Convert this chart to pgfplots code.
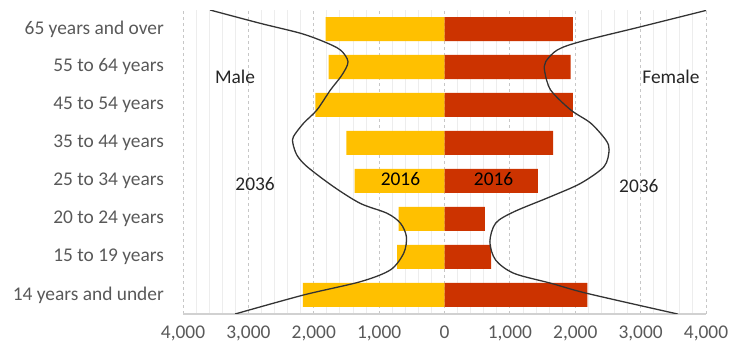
\documentclass[border=0pt]{standalone}
\usepackage{fontspec}
\setmainfont{Carlito}
\usepackage{pgfplots}
\pgfplotsset{compat=1.18}
\definecolor{male}{HTML}{FFC000}
\definecolor{female}{HTML}{CC3300}
\definecolor{lab}{HTML}{595959}
\definecolor{txt}{HTML}{262626}
\begin{document}
\fontsize{19.4}{23}\selectfont
\begin{tikzpicture}[x=1pt,y=1pt]
\useasboundingbox (0,0) rectangle (743,347);
\begin{axis}[
 at={(183pt,33pt)}, anchor=south west,
 scale only axis, width=523pt, height=304pt,
 xmin=-4000, xmax=4000, ymin=0, ymax=8,
 xtick={-4000,-3000,-2000,-1000,0,1000,2000,3000,4000},
 xticklabels={{4,000},{3,000},{2,000},{1,000},0,{1,000},{2,000},{3,000},{4,000}},
 minor x tick num=4,
 ytick={0.5,1.5,2.5,3.5,4.5,5.5,6.5,7.5},
 yticklabels={14 years and under,15 to 19 years,20 to 24 years,25 to 34 years,35 to 44 years,45 to 54 years,55 to 64 years,65 years and over},
 xmajorgrids, xminorgrids,
 major grid style={dashed, color=black!22, line width=0.9pt},
 minor grid style={color=black!7, line width=0.9pt},
 axis x line*=bottom, axis y line*=left,
 x axis line style={draw=black!18, line width=1.2pt, -},
 y axis line style={draw=none},
 major tick length=0pt, minor tick length=0pt,
 ticklabel style={font=\fontsize{19.4}{23}\selectfont, text=lab},
 xticklabel style={yshift=-5pt},
 yticklabel style={xshift=-12.5pt},
]
\addplot[xbar, bar width=24pt, bar shift=0pt, fill=male, draw=none]
 coordinates {(-2166,0.5) (-725,1.5) (-700,2.5) (-1374,3.5) (-1502,4.5) (-1977,5.5) (-1773,6.5) (-1820,7.5)};
\addplot[xbar, bar width=24pt, bar shift=0pt, fill=female, draw=none]
 coordinates {(2187,0.5) (715,1.5) (618,2.5) (1430,3.5) (1660,4.5) (1962,5.5) (1931,6.5) (1962,7.5)};
\addplot[smooth, tension=0.5, color=black!80, line width=1.3pt] coordinates {
 (-3586,8.0) (-2820,7.65) (-2207,7.39) (-1850,7.17) (-1594,6.95) (-1476,6.64) (-1568,6.29)
 (-1747,5.89) (-1951,5.37) (-2156,5.02) (-2310,4.67) (-2319,4.49) (-2257,4.18) (-2104,3.88)
 (-1697,3.35) (-1287,2.91) (-878,2.65) (-674,2.39) (-582,2.03) (-624,1.60) (-828,1.16)
 (-1287,0.85) (-2156,0.50) (-3203,0.0)};
\addplot[smooth, tension=0.5, color=black!80, line width=1.3pt] coordinates {
 (4026,8.0) (3004,7.56) (2084,7.17) (1727,6.95) (1548,6.64) (1533,6.38) (1625,5.89)
 (1931,5.37) (2238,5.02) (2467,4.58) (2518,4.32) (2441,3.88) (2084,3.44) (1625,3.09)
 (1062,2.69) (782,2.39) (694,1.90) (782,1.42) (1062,1.07) (1625,0.81) (2187,0.54) (3566,0.0)};
\node[text=txt] at (axis cs:-3203,6.24) {Male};
\node[text=txt] at (axis cs:3464,6.24) {Female};
\node[text=txt] at (axis cs:-2897,3.42) {2036};
\node[text=txt] at (axis cs:2973,3.37) {2036};
\node[text=black] at (axis cs:-674,3.55) {2016};
\node[text=black] at (axis cs:751,3.55) {2016};
\end{axis}
\end{tikzpicture}
\end{document}
